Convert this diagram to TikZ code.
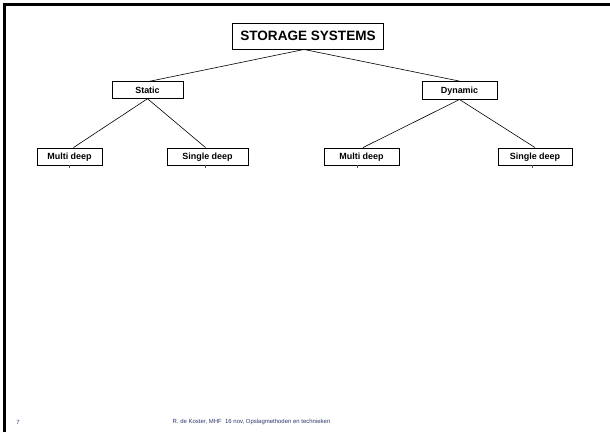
\documentclass[tikz,border=0pt]{standalone}
\usepackage{fontspec}
\setmainfont{Liberation Sans}
\definecolor{footblue}{RGB}{45,55,105}
\begin{document}
\begin{tikzpicture}[x=1bp,y=-1bp,
  box/.style={draw=black,line width=0.9bp,fill=white,inner sep=0pt,
    text height=6.6bp,text depth=0.6bp,font=\bfseries\fontsize{9}{10}\selectfont},
  link/.style={draw=black,line width=0.6bp},
  tick/.style={draw=black!70,line width=0.6bp}]
\useasboundingbox (0,0) rectangle (610,432);
% slide frame (top and left edge)
\draw[line width=3bp] (4,432) -- (4,4.5) -- (610,4.5);

% root
\node[box,minimum width=151bp,minimum height=26bp,text height=10bp,text depth=0.5bp,
  font=\bfseries\fontsize{13.6}{15}\selectfont]
  (root) at (308,36) {STORAGE SYSTEMS};
% second level
\node[box,minimum width=71bp,minimum height=16.5bp] (static) at (147.5,90) {Static};
\node[box,minimum width=75bp,minimum height=17.5bp] (dynamic) at (459.5,90.3) {Dynamic};
% leaves
\node[box,minimum width=65bp,minimum height=17bp] (sm) at (69.5,156.5) {Multi deep};
\node[box,minimum width=81bp,minimum height=17bp] (ss) at (207.5,156.5) {Single deep};
\node[box,minimum width=75bp,minimum height=17bp] (dm) at (361.5,156.5) {Multi deep};
\node[box,minimum width=74bp,minimum height=17bp] (ds) at (535,156.5) {Single deep};

% connectors
\coordinate (rb) at ([xshift=-4bp]root.south);
\draw[link] (rb) -- ([xshift=2bp]static.north);
\draw[link] (rb) -- (dynamic.north);
\draw[link] (static.south) -- ([xshift=4bp]sm.north);
\draw[link] (static.south) -- ([xshift=-2bp]ss.north);
\draw[link] (dynamic.south) -- ([xshift=1.5bp]dm.north);
\draw[link] (dynamic.south) -- (ds.north);

% short marks under the leaves
\draw[tick] ([xshift=-0.5bp]sm.south) -- ++(0,3);
\draw[tick] ([xshift=-2bp]ss.south) -- ++(0,3);
\draw[tick] ([xshift=-4.5bp]dm.south) -- ++(0,3);
\draw[tick] ([xshift=-3bp]ds.south) -- ++(0,3);

% footer
\node[text=footblue,font=\fontsize{6}{7}\selectfont] (pg) at (18,422) {7};
\node[text=footblue,font=\fontsize{6}{7}\selectfont] (foot) at (251.5,422)
  {R. de Koster, MHF\ \ 16 nov, Opslagmethoden en technieken};
\end{tikzpicture}
\end{document}
